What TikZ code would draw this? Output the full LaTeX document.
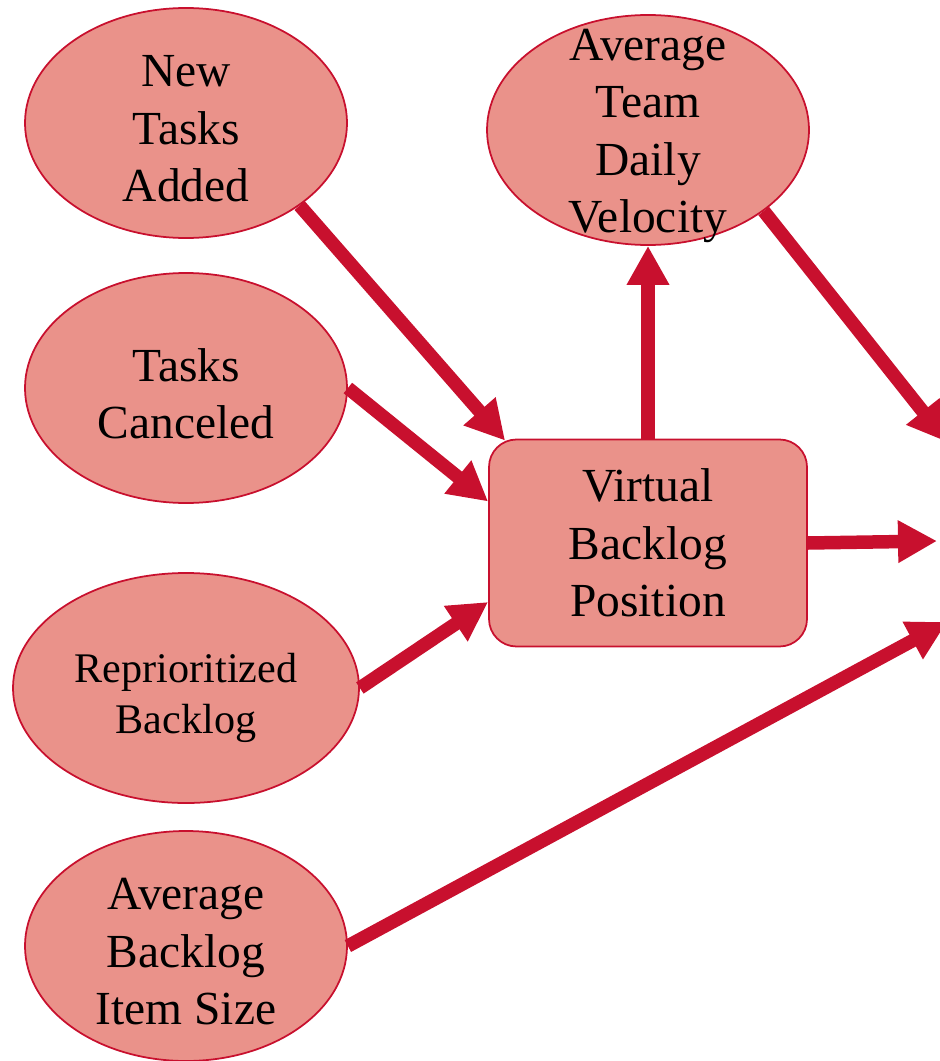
\documentclass[tikz,border=0pt]{standalone}
\usepackage{fontspec}
\setmainfont{Liberation Serif}
\usetikzlibrary{arrows.meta,shapes}

\definecolor{nodefill}{RGB}{234,146,138}
\definecolor{crimson}{RGB}{200,16,46}
\newcommand\bigtext{\fontsize{27}{32.7}\selectfont}
\newcommand\smalltext{\fontsize{24}{29}\selectfont}

\begin{document}
\begin{tikzpicture}[->,>={Triangle[length=0.78cm,width=0.8cm]},line width=0.27cm,
		crimson,node distance=5cm,
		oval/.style={ellipse,draw=crimson,fill=nodefill,line width=1pt,
			minimum width=6.44cm,minimum height=4.6cm,inner sep=0pt},
		block/.style={rectangle,rounded corners=0.55cm,draw=crimson,fill=nodefill,
			line width=1pt,minimum width=6.36cm,minimum height=4.14cm,
			align=center,text=black,font=\bigtext},
		txt/.style={align=center,text=black,font=\bigtext,yshift=-0.12cm}]
		\useasboundingbox (0,0) rectangle (18.78,-21.22);

		\node[oval,label={[txt]center:{New\\Tasks\\Added}}] (nta) at (3.72,-2.46) {};
		\node[oval,node distance=5.3cm,label={[txt]center:{Tasks\\Canceled}}] (tcn) [below of=nta] {};
		\node[oval,node distance=6cm,minimum width=6.92cm,
			label={[txt,font=\smalltext,yshift=-0.08cm]center:{Reprioritized\\Backlog}}] (rpb) [below of=tcn] {};
		\node[oval,node distance=5.16cm,label={[txt]center:{Average\\Backlog\\Item Size}}] (abs) [below of=rpb] {};
		\node[oval,label={[txt]center:{Average\\Team\\Daily\\Velocity}}] (atv) at (12.96,-2.6) {};
		\node[block,node distance=8.26cm] (vbp) [below of=atv] {Virtual\\Backlog\\Position};

		% loose ends, running off to the right
		\coordinate (outA) at (18.94,-8.84);
		\coordinate (outB) at (18.74,-10.82);
		\coordinate (outC) at (18.94,-12.44);

		\path
		(nta.-36) edge ([xshift=0.34cm,yshift=-0.04cm]vbp.north west)
		(tcn.east) edge ([yshift=0.83cm]vbp.west)
		(rpb.east) edge ([yshift=-1.18cm]vbp.west)
		(vbp) edge (atv)
		(atv.-35) edge (outA)
		(vbp.east) edge (outB)
		(abs.east) edge (outC);
	\end{tikzpicture}
\end{document}
